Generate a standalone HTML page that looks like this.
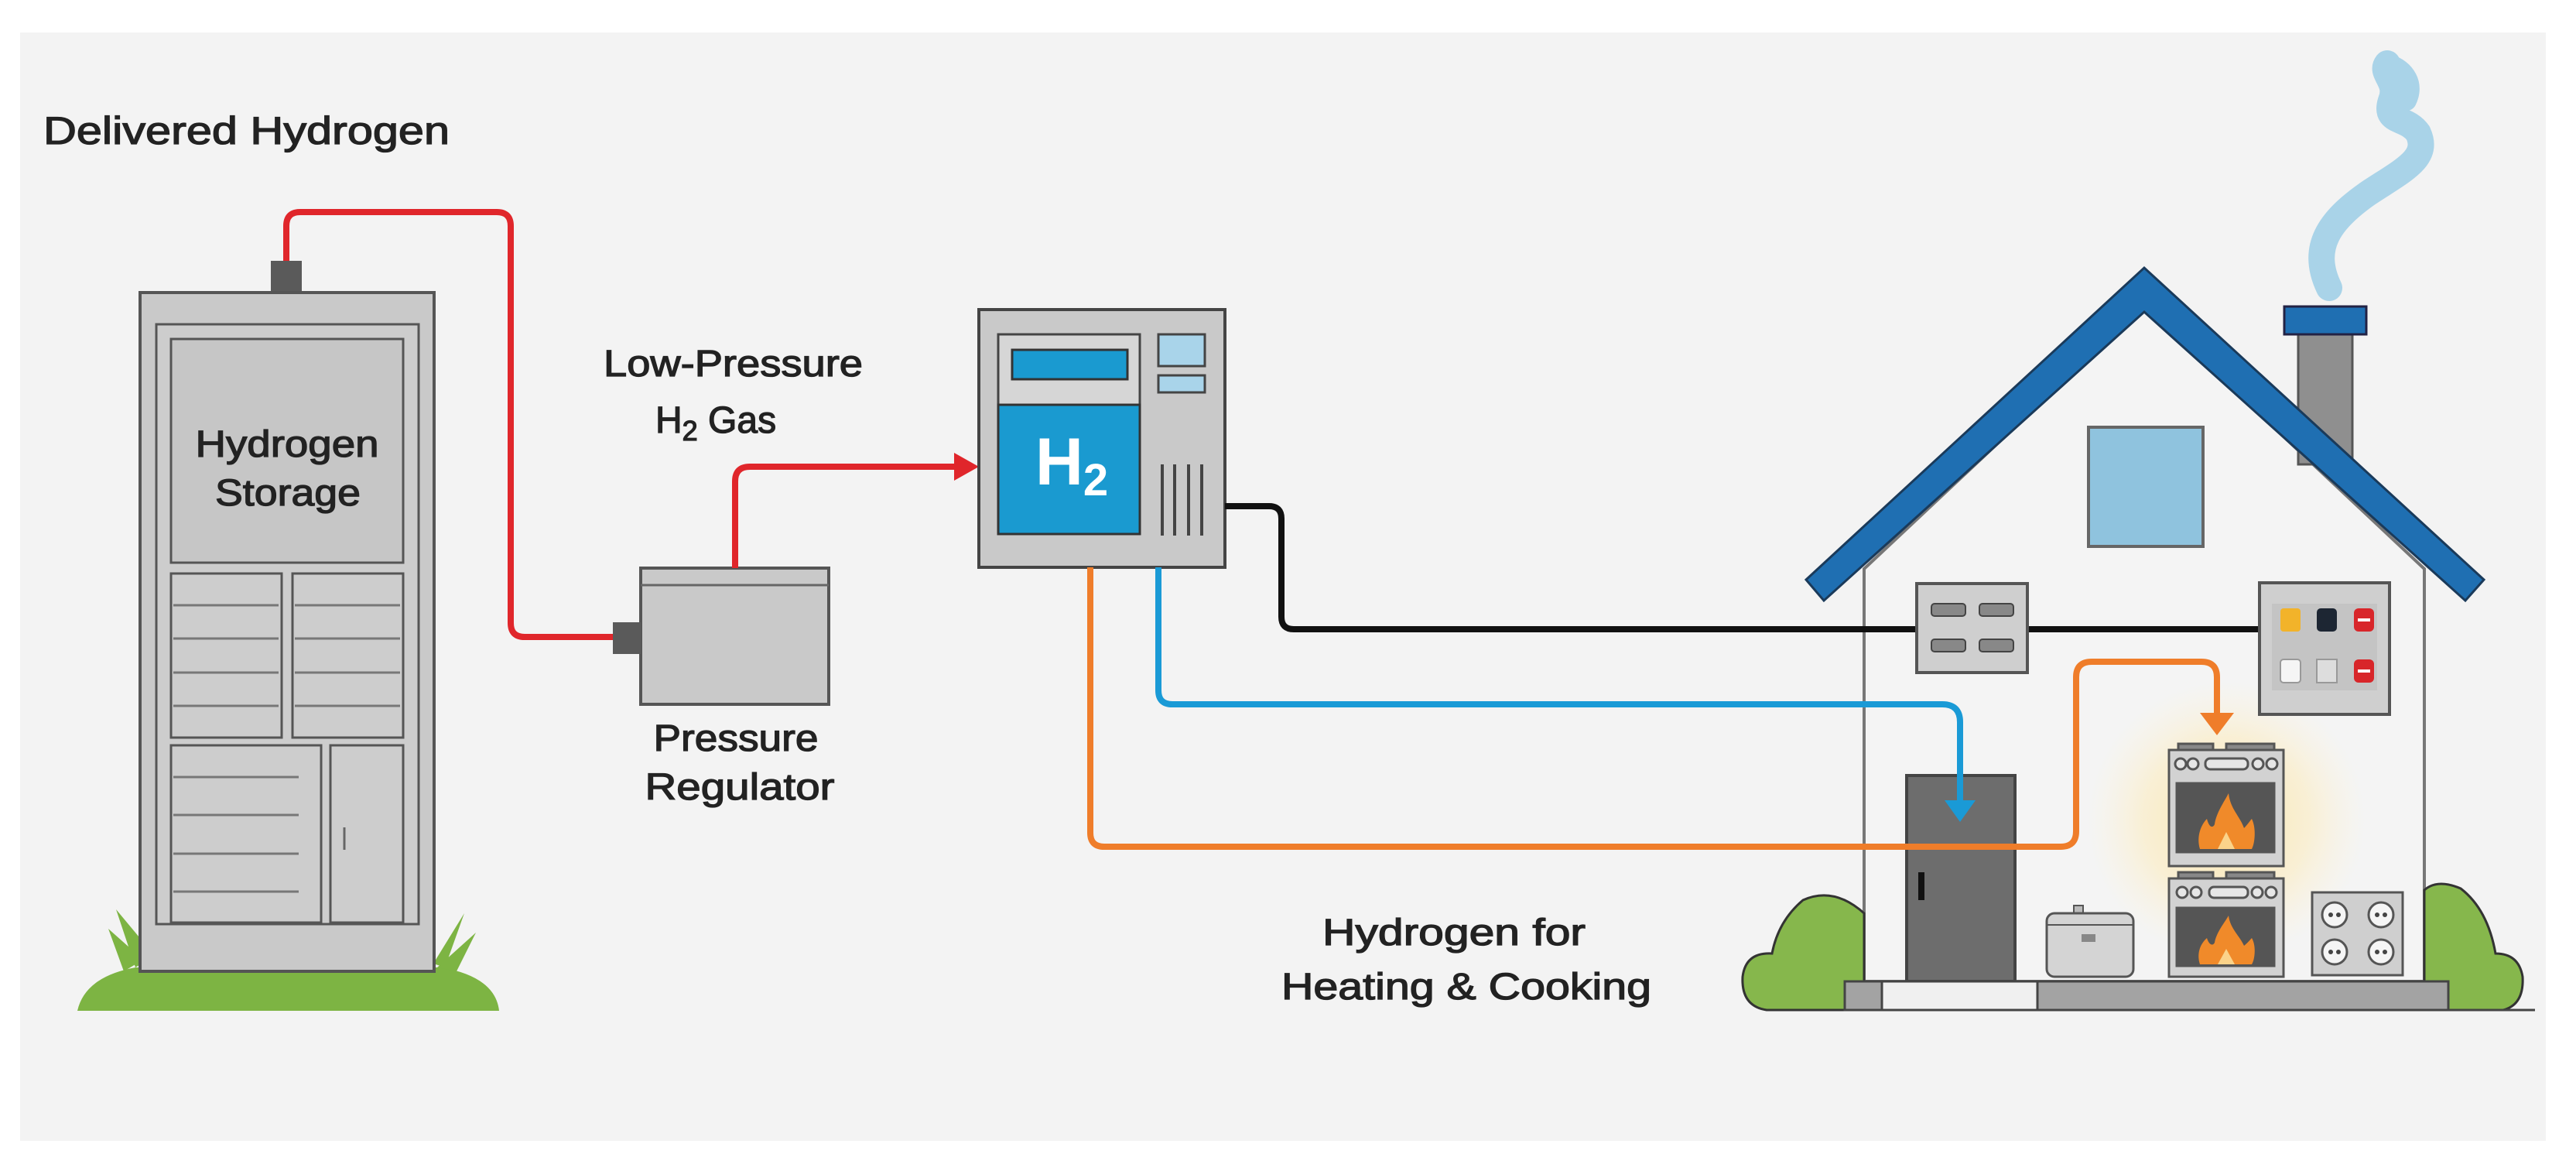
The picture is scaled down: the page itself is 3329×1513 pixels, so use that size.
<!DOCTYPE html>
<html><head><meta charset="utf-8"><style>
html,body{margin:0;padding:0;background:#fff;}
svg{display:block;}
text{font-family:"Liberation Sans",sans-serif;fill:#222;stroke:#222;stroke-width:1.3px;}
</style></head><body>
<svg width="3329" height="1513" viewBox="0 0 3329 1513" xmlns="http://www.w3.org/2000/svg">
<defs>
<radialGradient id="glow" cx="0.5" cy="0.5" r="0.5">
<stop offset="0" stop-color="#fbe3a0" stop-opacity="0.9"/>
<stop offset="0.6" stop-color="#fcecc0" stop-opacity="0.6"/>
<stop offset="1" stop-color="#fdf3d8" stop-opacity="0"/>
</radialGradient>
</defs>
<rect x="0" y="0" width="3329" height="1513" fill="#ffffff"/>
<rect x="26" y="42" width="3264" height="1432" fill="#f3f3f3"/>

<text x="56" y="186" font-size="50" textLength="525" lengthAdjust="spacingAndGlyphs">Delivered Hydrogen</text>

<!-- Grass -->
<path d="M100,1306 Q110,1262 175,1250 L570,1250 Q640,1262 645,1306 Z" fill="#7db443"/>
<path d="M160,1255 L140,1200 L185,1240 Z M175,1250 L150,1175 L200,1235 Z M560,1245 L600,1180 L575,1250 Z M565,1250 L615,1205 L590,1255 Z" fill="#7db443"/>

<!-- Storage cabinet -->
<rect x="350" y="337" width="40" height="42" fill="#5a5a5a"/>
<rect x="181" y="378" width="380" height="877" fill="#c9c9c9" stroke="#555" stroke-width="4"/>
<rect x="202" y="419" width="339" height="775" fill="#cdcdcd" stroke="#555" stroke-width="3"/>
<rect x="221" y="438" width="300" height="289" fill="#c6c6c6" stroke="#555" stroke-width="3"/>
<text x="371" y="590" font-size="48" text-anchor="middle" textLength="237" lengthAdjust="spacingAndGlyphs">Hydrogen</text>
<text x="372" y="653" font-size="48" text-anchor="middle" textLength="188" lengthAdjust="spacingAndGlyphs">Storage</text>
<rect x="221" y="741" width="143" height="212" fill="#cdcdcd" stroke="#555" stroke-width="3"/>
<rect x="378" y="741" width="143" height="212" fill="#cdcdcd" stroke="#555" stroke-width="3"/>
<g stroke="#777" stroke-width="3">
<line x1="224" y1="782" x2="360" y2="782"/><line x1="224" y1="825" x2="360" y2="825"/><line x1="224" y1="869" x2="360" y2="869"/><line x1="224" y1="912" x2="360" y2="912"/>
<line x1="381" y1="782" x2="517" y2="782"/><line x1="381" y1="825" x2="517" y2="825"/><line x1="381" y1="869" x2="517" y2="869"/><line x1="381" y1="912" x2="517" y2="912"/>
<line x1="224" y1="1004" x2="386" y2="1004"/><line x1="224" y1="1053" x2="386" y2="1053"/><line x1="224" y1="1103" x2="386" y2="1103"/><line x1="224" y1="1152" x2="386" y2="1152"/>
</g>
<rect x="221" y="963" width="194" height="229" fill="none" stroke="#555" stroke-width="3"/>
<rect x="427" y="963" width="94" height="229" fill="#cdcdcd" stroke="#555" stroke-width="3"/>
<line x1="445" y1="1069" x2="445" y2="1098" stroke="#666" stroke-width="3"/>

<path d="M370,337 L370,292 Q370,274 388,274 L642,274 Q660,274 660,292 L660,805 Q660,823 678,823 L792,823" fill="none" stroke="#e0262b" stroke-width="8"/>
<rect x="828" y="734" width="243" height="176" fill="#c9c9c9" stroke="#555" stroke-width="4"/>
<line x1="828" y1="756" x2="1071" y2="756" stroke="#666" stroke-width="3"/>
<rect x="792" y="804" width="36" height="41" fill="#5a5a5a"/>
<text x="951" y="970" font-size="48" text-anchor="middle" textLength="213" lengthAdjust="spacingAndGlyphs">Pressure</text>
<text x="956" y="1033" font-size="48" text-anchor="middle" textLength="245" lengthAdjust="spacingAndGlyphs">Regulator</text>
<text x="780" y="486" font-size="48" textLength="335" lengthAdjust="spacingAndGlyphs">Low-Pressure</text>
<text x="847" y="559" font-size="48">H<tspan font-size="36" dy="10">2</tspan><tspan dy="-10"> Gas</tspan></text>
<path d="M950,734 L950,622 Q950,603 969,603 L1238,603" fill="none" stroke="#e0262b" stroke-width="8"/>
<polygon points="1265,603 1233,585 1233,621" fill="#e0262b"/>

<text x="1879" y="1221" font-size="48" text-anchor="middle" textLength="340" lengthAdjust="spacingAndGlyphs">Hydrogen for</text>
<text x="1895" y="1291" font-size="48" text-anchor="middle" textLength="478" lengthAdjust="spacingAndGlyphs">Heating &amp; Cooking</text>

<!-- Meter -->
<rect x="1265" y="400" width="318" height="333" fill="#c9c9c9" stroke="#444" stroke-width="4"/>
<rect x="1290" y="432" width="183" height="258" fill="#d6d6d6" stroke="#444" stroke-width="3"/>
<rect x="1308" y="452" width="149" height="38" fill="#1a9ad0" stroke="#333" stroke-width="3"/>
<rect x="1290" y="523" width="183" height="167" fill="#1a9ad0" stroke="#333" stroke-width="3"/>
<text x="1385" y="626" font-size="86" font-weight="bold" text-anchor="middle" style="fill:#fff;stroke:none">H<tspan font-size="58" dy="14">2</tspan></text>
<rect x="1497" y="432" width="60" height="41" fill="#a9d4ea" stroke="#444" stroke-width="3"/>
<rect x="1497" y="485" width="60" height="22" fill="#a9d4ea" stroke="#444" stroke-width="3"/>
<g stroke="#444" stroke-width="4"><line x1="1502" y1="600" x2="1502" y2="692"/><line x1="1518" y1="600" x2="1518" y2="692"/><line x1="1536" y1="600" x2="1536" y2="692"/><line x1="1553" y1="600" x2="1553" y2="692"/></g>

<!-- Smoke -->
<path d="M3010,372 C2985,320 3010,285 3060,250 C3105,220 3140,205 3125,172 C3110,150 3080,160 3090,130 C3100,105 3075,95 3085,82" fill="none" stroke="#a9d3e8" stroke-width="34" stroke-linecap="round"/>
<path d="M3085,82 C3110,90 3120,110 3110,130" fill="none" stroke="#a9d3e8" stroke-width="26" stroke-linecap="round"/>

<!-- House walls -->
<polygon points="2409,1268 2409,735 2771,395 3133,735 3133,1268" fill="#f4f4f4" stroke="#777" stroke-width="4"/>
<rect x="2970" y="430" width="70" height="170" fill="#8f8f8f" stroke="#555" stroke-width="3"/>
<rect x="2952" y="396" width="106" height="36" fill="#1f6fb2" stroke="#224" stroke-width="3"/>
<polygon points="2334,749 2771,346 3210,749 3186,776 2771,403 2357,776" fill="#1f6fb2" stroke="#1a3a5a" stroke-width="3"/>
<rect x="2699" y="552" width="148" height="154" fill="#8fc3de" stroke="#666" stroke-width="4"/>

<circle cx="2877" cy="1060" r="180" fill="url(#glow)"/>

<!-- Door -->
<rect x="2464" y="1002" width="140" height="266" fill="#6d6d6d" stroke="#444" stroke-width="4"/>
<rect x="2479" y="1127" width="8" height="36" fill="#111"/>

<!-- Lines to house -->
<path d="M1583,654 L1640,654 Q1656,654 1656,670 L1656,797 Q1656,813 1672,813 L2920,813" fill="none" stroke="#111" stroke-width="8"/>
<path d="M1497,733 L1497,892 Q1497,910 1515,910 L2510,910 Q2533,910 2533,933 L2533,1040" fill="none" stroke="#1a9ad6" stroke-width="8"/>
<polygon points="2533,1062 2513,1034 2553,1034" fill="#1a9ad6"/>
<path d="M1409,733 L1409,1076 Q1409,1094 1427,1094 L2663,1094 Q2683,1094 2683,1074 L2683,875 Q2683,855 2703,855 L2845,855 Q2865,855 2865,875 L2865,925" fill="none" stroke="#ef7d2a" stroke-width="8"/>
<polygon points="2865,950 2843,921 2887,921" fill="#ef7d2a"/>

<!-- Left panel -->
<rect x="2477" y="754" width="143" height="115" fill="#cfcfcf" stroke="#555" stroke-width="4"/>
<g fill="#888" stroke="#444" stroke-width="2">
<rect x="2496" y="780" width="44" height="16" rx="4"/><rect x="2558" y="780" width="44" height="16" rx="4"/>
<rect x="2496" y="826" width="44" height="16" rx="4"/><rect x="2558" y="826" width="44" height="16" rx="4"/>
</g>
<!-- Right panel -->
<rect x="2920" y="753" width="168" height="170" fill="#cfcfcf" stroke="#555" stroke-width="4"/>
<rect x="2936" y="780" width="136" height="112" fill="#c4c4c4"/>
<rect x="2947" y="786" width="26" height="30" rx="4" fill="#f2b32a"/>
<rect x="2994" y="786" width="26" height="30" rx="5" fill="#1d2633"/>
<rect x="3042" y="786" width="26" height="30" rx="6" fill="#d8262a"/>
<rect x="2947" y="852" width="26" height="30" rx="4" fill="#f5f5f5" stroke="#999" stroke-width="2"/>
<rect x="2994" y="852" width="26" height="30" fill="#ddd" stroke="#999" stroke-width="2"/>
<rect x="3042" y="852" width="26" height="30" rx="6" fill="#d8262a"/>
<g fill="#fff"><rect x="3047" y="799" width="16" height="4"/><rect x="3047" y="865" width="16" height="4"/></g>

<!-- Ovens -->
<g stroke="#555" stroke-width="3">
<rect x="2815" y="961" width="45" height="9" fill="#888"/><rect x="2877" y="961" width="62" height="9" fill="#888"/>
<rect x="2803" y="969" width="148" height="150" fill="#d2d2d2"/>
<rect x="2813" y="1012" width="126" height="89" fill="#555"/>
<rect x="2815" y="1127" width="45" height="9" fill="#888"/><rect x="2877" y="1127" width="62" height="9" fill="#888"/>
<rect x="2803" y="1135" width="148" height="127" fill="#d2d2d2"/>
<rect x="2813" y="1173" width="126" height="75" fill="#555"/>
<rect x="2850" y="980" width="55" height="14" rx="6" fill="#e6e6e6"/>
<rect x="2855" y="1146" width="50" height="14" rx="6" fill="#e6e6e6"/>
</g>
<g fill="#e6e6e6" stroke="#555" stroke-width="3">
<circle cx="2818" cy="987" r="7"/><circle cx="2834" cy="987" r="7"/><circle cx="2918" cy="987" r="7"/><circle cx="2936" cy="987" r="7"/>
<circle cx="2820" cy="1153" r="7"/><circle cx="2838" cy="1153" r="7"/><circle cx="2917" cy="1153" r="7"/><circle cx="2935" cy="1153" r="7"/>
</g>
<path d="M2843,1097 C2838,1080 2845,1065 2852,1058 C2855,1070 2860,1070 2862,1065 C2864,1050 2875,1035 2880,1025 C2882,1045 2895,1055 2900,1070 C2905,1065 2908,1060 2910,1058 C2916,1070 2914,1090 2910,1097 Z" fill="#f08a2a"/>
<path d="M2866,1097 L2877,1075 L2888,1097 Z" fill="#fbd38a"/>
<path d="M2843,1246 C2838,1230 2845,1218 2852,1212 C2855,1222 2860,1222 2862,1218 C2864,1205 2875,1192 2880,1183 C2882,1200 2895,1210 2900,1222 C2905,1218 2908,1214 2910,1212 C2916,1222 2914,1240 2910,1246 Z" fill="#f08a2a"/>
<path d="M2866,1246 L2877,1226 L2888,1246 Z" fill="#fbd38a"/>

<!-- Pot -->
<rect x="2680" y="1170" width="12" height="10" fill="#bbb" stroke="#555" stroke-width="2"/>
<rect x="2645" y="1180" width="112" height="82" rx="10" fill="#d4d4d4" stroke="#555" stroke-width="3"/>
<line x1="2645" y1="1195" x2="2757" y2="1195" stroke="#555" stroke-width="2"/>
<rect x="2690" y="1207" width="18" height="10" fill="#888"/>

<!-- Outlet plate -->
<rect x="2988" y="1153" width="117" height="107" fill="#cfcfcf" stroke="#555" stroke-width="3"/>
<g fill="#f5f5f5" stroke="#555" stroke-width="3">
<circle cx="3017" cy="1182" r="16"/><circle cx="3077" cy="1182" r="16"/><circle cx="3017" cy="1230" r="16"/><circle cx="3077" cy="1230" r="16"/>
</g>
<g fill="#444"><circle cx="3012" cy="1182" r="3"/><circle cx="3022" cy="1182" r="3"/><circle cx="3072" cy="1182" r="3"/><circle cx="3082" cy="1182" r="3"/><circle cx="3012" cy="1230" r="3"/><circle cx="3022" cy="1230" r="3"/><circle cx="3072" cy="1230" r="3"/><circle cx="3082" cy="1230" r="3"/></g>

<!-- Bushes -->
<path d="M2409,1305 L2283,1305 Q2250,1300 2252,1262 Q2256,1230 2290,1232 Q2298,1190 2330,1163 Q2370,1145 2409,1180 Z" fill="#86b74c" stroke="#333" stroke-width="3"/>
<path d="M3133,1305 L3235,1305 Q3262,1298 3260,1262 Q3255,1232 3225,1232 Q3215,1175 3180,1148 Q3150,1135 3133,1150 Z" fill="#86b74c" stroke="#333" stroke-width="3"/>

<!-- Foundation -->
<rect x="2384" y="1268" width="780" height="37" fill="#a3a3a3" stroke="#444" stroke-width="3"/>
<rect x="2432" y="1268" width="201" height="37" fill="#f0f0f0" stroke="#444" stroke-width="3"/>
<line x1="3164" y1="1305" x2="3276" y2="1305" stroke="#444" stroke-width="3"/>
</svg>
</body></html>
